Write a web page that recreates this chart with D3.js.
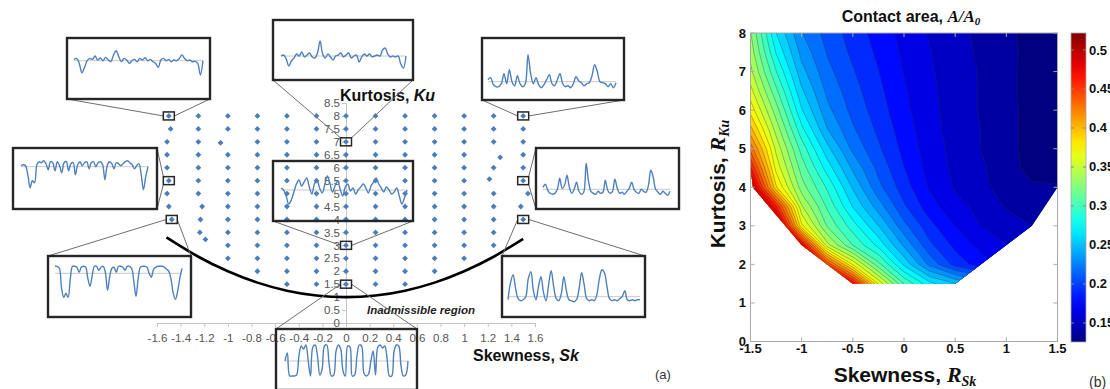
<!DOCTYPE html>
<html><head><meta charset="utf-8">
<script src="https://cdn.jsdelivr.net/npm/d3@7"></script>
<style>
  body { margin: 0; background: #fff; }
  svg { display: block; }
  text { font-family: 'Liberation Sans', Arial, sans-serif; }
</style>
</head><body>
<svg id="fig" width="1110" height="389"></svg>
<script>
// ----------------------------------------------------------------------------
// Design of experiments: skewness / kurtosis targets
// ----------------------------------------------------------------------------
const skLevels = [-1.5, -1.25, -1, -0.75, -0.5, -0.25, 0, 0.25, 0.5, 0.75, 1, 1.25, 1.5];
const kuLevels = [1.5, 2, 2.5, 3, 3.5, 4, 4.5, 5, 5.5, 6, 6.5, 7, 7.5, 8];
const kuMinByColumn = [4, 3, 2.5, 2, 1.5, 1.5, 1.5, 1.5, 1.5, 2, 2.5, 3, 4];

// runs whose generated surface landed slightly off target: [targetSk, targetKu, Sk, Ku]
const offTarget = [
  [-1.5, 7.5, -1.485, 7.5], [-1.5, 7, -1.515, 7], [-1.5, 6.5, -1.515, 6.5],
  [-1.5, 6, -1.515, 6], [-1.5, 5, -1.515, 5], [-1.5, 4, -1.475, 4],
  [-1.25, 4.5, -1.218, 4.5], [-1.25, 4, -1.232, 4], [-1.25, 3.5, -1.237, 3.5],
  [-1.25, 3, -1.19, 3.23], [-1, 7, -1.062, 6.96],
  [1.25, 6.5, 1.305, 6.4], [1.25, 5.5, 1.214, 5.56],
  [1.5, 5, 1.54, 5], [1.5, 4.5, 1.48, 4.5]
];

// lower bound of the admissible region, Ku = Sk^2 + 1
const boundarySk = [-1.52, -1.25, -1, -0.75, -0.5, -0.25, 0, 0.25, 0.5, 0.75, 1, 1.25, 1.5];
const boundaryKu = [3.31, 2.56, 2.0, 1.56, 1.25, 1.06, 1.0, 1.06, 1.25, 1.56, 2.0, 2.56, 3.25];

// axis labels of panel (a)
const xTickLabelsA = ["-1.6","-1.4","-1.2","-1","-0.8","-0.6","-0.4","-0.2","0","0.2","0.4","0.6","0.8","1","1.2","1.4","1.6"];
const yTickLabelsA = ["0","0.5","1","1.5","2","2.5","3","3.5","4","4.5","5","5.5","6","6.5","7","7.5","8","8.5"];

// example height profiles (mean line = 0)
const sigTopLeft   = [1.3,2.3,-2.7,-12,-6.7,0,2.3,1.3,4.7,0.7,2.7,0,3.3,0.7,-1,5.7,10,4,-1,2.3,0.7,-2.7,0,1.3,-1,2.3,0.7,3,0,1.3,-1,-2.7,-6.7,0.7,2.3,0,1.3,-1,0.7,0,2.3,5.7,2.3,0,0.7,-1,-0.7,-2.7,-14.3,0];
const sigTopCentre = [0,1,-3,-10,-5,-2,2,0,4,-1,1,3,-1,-2,3,15,2,-2,2,-1,-4,0,1,3,-1,1,3,-2,0,1,-6,-1,2,0,2,-1,0,1,0,6,8,2,-1,0,-1,0,-8,-12,0];
const sigTopRight  = [2,4,-3,-5,-5,-2,8,-2,12,0,-4,6,-2,-5,-2,27,8,-2,4,-3,-6,-3,2,7,-2,-4,2,8,-2,-5,-4,-6,-2,5,1,-1,-4,-2,-1,6,17,10,0,-1,-2,-5,-2,-6,-1];
const sigMidLeft   = [1,2,1,-8,-21,-14,-16,2,5,4,6,3,-3,5,4,-4,5,1,-6,4,5,-4,3,4,-8,2,5,1,4,5,-2,4,5,0,4,5,2,-13,1,5,3,-2,4,3,1,3,5,6,4,2,-2,1,3,-8,-23,-10,0];
const sigMidRight  = [2,5,-1,-4,-5,-4,0,11,1,4,14,2,-4,0,7,-2,-5,-3,26,8,-2,-4,-5,-2,-4,-3,9,-1,-4,-2,10,1,-4,-3,-5,-2,1,7,0,-3,-4,0,-2,-3,4,19,12,0,-3,-5,-2,-4,-6,-2];
const sigCentre    = [2,0,-6,-14,-10,-2,6,10,4,8,12,3,-4,6,10,2,-3,5,14,7,-2,4,9,1,-6,3,6,-1,2,-4,0,3,6,2,-3,4,8,12,6,2,-2,3,0,-4,-2,2,-6,-14,-8,0];
const sigLowLeft   = [7,7,5,-15,-24,-20,-24,-5,7,7,6,1,6,7,6,-5,-13,-2,7,7,3,6,7,1,-17,-3,5,6,1,7,7,6,3,7,7,5,-8,-23,-5,6,7,7,6,0,-4,4,6,7,7,7,6,4,2,-6,-20,-26,-18,-5,5];
const sigLowRight  = [-3,14,22,8,-2,-4,-3,0,18,25,6,-3,10,20,4,-4,12,26,10,-2,-4,3,20,6,-3,-4,-5,-3,8,24,12,-2,-4,-3,-4,2,18,27,24,10,-2,-4,-3,-4,-2,0,6,-3,-4,-3,-4,-3,-3];
const sigBottom    = [0,8,-15,-15,-15,-14,5,15,12,16,0,-15,14,16,5,-14,-8,15,16,-3,-15,-14,10,16,12,-10,-15,15,14,-15,-14,5,16,15,-12,-15,-13,0,10,-14,14,16,13,15,2,-15,-15,10,16,15,-5,-15,-14,0];

// ----------------------------------------------------------------------------
// Panel (b): contact area A/A0 on the (Sk, Ku) grid, rows from Ku = 8 down to 1.5
// ----------------------------------------------------------------------------
const kuRows = [8, 7.5, 7, 6.5, 6, 5.5, 5, 4.5, 4, 3.5, 3, 2.5, 2, 1.5];
const contactArea = [
  [0.338,0.271,0.232,0.213,0.199,0.186,0.174,0.164,0.156,0.149,0.142,0.134,0.130],
  [0.345,0.283,0.240,0.217,0.202,0.189,0.176,0.166,0.157,0.150,0.143,0.134,0.129],
  [0.354,0.298,0.249,0.222,0.206,0.192,0.178,0.167,0.158,0.151,0.143,0.133,0.128],
  [0.368,0.314,0.260,0.228,0.210,0.195,0.180,0.168,0.159,0.151,0.143,0.133,0.128],
  [0.385,0.330,0.272,0.235,0.214,0.198,0.182,0.169,0.159,0.151,0.144,0.133,0.127],
  [0.408,0.345,0.288,0.245,0.220,0.202,0.185,0.170,0.160,0.152,0.144,0.133,0.127],
  [0.438,0.360,0.305,0.262,0.228,0.207,0.188,0.172,0.161,0.152,0.144,0.133,0.126],
  [0.472,0.372,0.318,0.278,0.242,0.214,0.192,0.174,0.162,0.154,0.145,0.134,0.127],
  [0.512,0.392,0.330,0.295,0.256,0.222,0.198,0.177,0.164,0.155,0.147,0.141,0.141],
  [0.560,0.470,0.352,0.308,0.270,0.238,0.207,0.184,0.170,0.161,0.151,0.146,0.143],
  [0.600,0.530,0.380,0.322,0.290,0.258,0.222,0.196,0.178,0.165,0.157,0.152,0.148],
  [0.650,0.580,0.488,0.355,0.310,0.280,0.242,0.208,0.188,0.174,0.166,0.160,0.155],
  [0.700,0.640,0.560,0.455,0.375,0.315,0.268,0.228,0.200,0.185,0.175,0.168,0.160],
  [0.750,0.700,0.630,0.560,0.480,0.375,0.310,0.275,0.258,0.240,0.220,0.200,0.190]
];
const areaRange = [0.1256, 0.5218];
const levelCount = 30;
const xTicksB = [-1.5, -1, -0.5, 0, 0.5, 1, 1.5];
const xTickLabelsB = ["-1.5", "-1", "-0.5", "0", "0.5", "1", "1.5"];
const yTicksB = [0, 1, 2, 3, 4, 5, 6, 7, 8];
const cbTicks = [0.15, 0.2, 0.25, 0.3, 0.35, 0.4, 0.45, 0.5];

// ----------------------------------------------------------------------------
const svg = d3.select("#fig");
const SANS = "'Liberation Sans', Arial, sans-serif";
const SERIF = "'Liberation Serif', 'Times New Roman', serif";

// achieved design points
const points = [];
skLevels.forEach((sk, ci) => {
  kuLevels.filter(ku => ku >= kuMinByColumn[ci]).forEach(ku => {
    const o = offTarget.find(d => d[0] === sk && d[1] === ku);
    points.push({ tSk: sk, tKu: ku, sk: o ? o[2] : sk, ku: o ? o[3] : ku });
  });
});
const pointAt = (sk, ku) => points.find(p => p.tSk === sk && p.tKu === ku);

// ============================ panel (a) =====================================
const xA = d3.scaleLinear([-1.6, 1.6], [157, 535]);
const yA = d3.scaleLinear([0, 8.5], [323, 103]);
const gA = svg.append("g");

const xAxisA = d3.axisBottom(xA)
  .tickValues(d3.range(xTickLabelsA.length).map(i => -1.6 + i * 0.2))
  .tickFormat((d, i) => xTickLabelsA[i]).tickSize(4).tickPadding(7);
const yAxisA = d3.axisLeft(yA)
  .tickValues(d3.range(yTickLabelsA.length).map(i => i * 0.5))
  .tickFormat((d, i) => yTickLabelsA[i]).tickSize(4).tickPadding(2);

function styleAxis(g) {
  g.select(".domain").attr("stroke", "#c4c4c4");
  g.selectAll(".tick line").attr("stroke", "#c4c4c4");
  g.selectAll(".tick text").attr("fill", "#555").style("font-size", "11.5px").style("font-family", SANS);
}
gA.append("g").attr("transform", `translate(0,${yA(0)})`).call(xAxisA).call(styleAxis);
gA.append("g").attr("transform", `translate(${xA(0)},0)`).call(yAxisA).call(styleAxis);

// inadmissible boundary
const boundary = boundarySk.map((s, i) => [s, boundaryKu[i]]);
gA.append("path")
  .attr("d", d3.line().x(d => xA(d[0])).y(d => yA(d[1])).curve(d3.curveNatural)(boundary))
  .attr("fill", "none").attr("stroke", "#000").attr("stroke-width", 2.6);

// design points
gA.append("g").selectAll("path").data(points).join("path")
  .attr("d", d3.symbol(d3.symbolSquare, 17))
  .attr("transform", d => `translate(${xA(d.sk)},${yA(d.ku)}) rotate(45)`)
  .attr("fill", "#4a7ebb");

gA.append("text").attr("x", 367).attr("y", 314)
  .style("font-size", "11.5px").style("font-weight", "bold").style("font-style", "italic")
  .attr("fill", "#222").text("Inadmissible region");

const kuTitle = gA.append("text").attr("x", 340).attr("y", 101)
  .style("font-size", "16px").style("font-weight", "bold").attr("fill", "#111");
kuTitle.append("tspan").text("Kurtosis, ");
kuTitle.append("tspan").style("font-style", "italic").text("Ku");

const skTitle = gA.append("text").attr("x", 473).attr("y", 361)
  .style("font-size", "16px").style("font-weight", "bold").attr("fill", "#111");
skTitle.append("tspan").text("Skewness, ");
skTitle.append("tspan").style("font-style", "italic").text("Sk");

gA.append("text").attr("x", 655).attr("y", 379).style("font-size", "13px").attr("fill", "#333").text("(a)");

// insets with example profiles
const insetLayout = [
  { sig: sigTopLeft,   sk: -1.5, ku: 8,   box: [67, 38, 143, 61],  mean: 22.7, pad: [7, 7], links: [["bl", "l"], ["br", "r"]] },
  { sig: sigTopCentre, sk: 0,    ku: 7,   box: [273, 20, 140, 60], mean: 36,   pad: [8, 7], links: [["bl", "tl"], ["br", "tr"]] },
  { sig: sigTopRight,  sk: 1.5,  ku: 8,   box: [482, 38, 142, 62], mean: 43.7, pad: [6, 8], links: [["bl", "l"], ["br", "r"]] },
  { sig: sigMidLeft,   sk: -1.5, ku: 5.5, box: [13, 148, 144, 61], mean: 18.7, pad: [8, 9], links: [["tr", "tl"], ["br", "bl"]] },
  { sig: sigMidRight,  sk: 1.5,  ku: 5.5, box: [536, 148, 143, 61], mean: 41.3, pad: [7, 9], links: [["tl", "tr"], ["bl", "br"]] },
  { sig: sigCentre,    sk: 0,    ku: 3,   box: [273, 161, 140, 60], mean: 29,   pad: [8, 6], links: [["bl", "l"], ["br", "r"]] },
  { sig: sigLowLeft,   sk: -1.5, ku: 4,   box: [48, 256, 143, 61], mean: 17.3, pad: [7, 9], links: [["tl", "l"], ["tr", "r"]] },
  { sig: sigLowRight,  sk: 1.5,  ku: 4,   box: [502, 256, 143, 61], mean: 40.7, pad: [6, 5], links: [["tl", "l"], ["tr", "r"]] },
  { sig: sigBottom,    sk: 0,    ku: 1.5, box: [276, 329, 141, 61], mean: 32,   pad: [9, 9], links: [["tl", "l"], ["tr", "r"]] }
];
const MW = 11, MH = 8;
const gIn = svg.append("g");
insetLayout.forEach(L => {
  const [bx, by, bw, bh] = L.box;
  const p = pointAt(L.sk, L.ku);
  const mx = xA(p.sk), my = yA(p.ku);
  const boxCorner = { tl: [bx, by], tr: [bx + bw, by], bl: [bx, by + bh], br: [bx + bw, by + bh] };
  const mark = {
    l: [mx - MW / 2, my], r: [mx + MW / 2, my],
    tl: [mx - MW / 2, my - MH / 2], tr: [mx + MW / 2, my - MH / 2],
    bl: [mx - MW / 2, my + MH / 2], br: [mx + MW / 2, my + MH / 2]
  };
  L.links.forEach(([a, b]) => {
    gIn.append("line")
      .attr("x1", boxCorner[a][0]).attr("y1", boxCorner[a][1])
      .attr("x2", mark[b][0]).attr("y2", mark[b][1])
      .attr("stroke", "#6e6e6e").attr("stroke-width", 1);
  });
  gIn.append("rect").attr("x", mx - MW / 2).attr("y", my - MH / 2).attr("width", MW).attr("height", MH)
    .attr("fill", "none").attr("stroke", "#262626").attr("stroke-width", 1.5);

  const x = d3.scaleLinear([0, L.sig.length - 1], [bx + L.pad[0], bx + bw - L.pad[1]]);
  const meanY = by + L.mean;
  const y = d3.scaleLinear([-1, 1], [meanY + 1, meanY - 1]);
  gIn.append("line").attr("x1", x(0)).attr("x2", x(L.sig.length - 1)).attr("y1", meanY).attr("y2", meanY)
    .attr("stroke", "#c8c8c8").attr("stroke-width", 1);
  gIn.append("path")
    .attr("d", d3.line().x((d, i) => x(i)).y(d => y(d)).curve(d3.curveCatmullRom.alpha(0.5))(L.sig))
    .attr("fill", "none").attr("stroke", "#4f81bd").attr("stroke-width", 1.4);
  gIn.append("rect").attr("x", bx).attr("y", by).attr("width", bw).attr("height", bh)
    .attr("fill", "none").attr("stroke", "#262626").attr("stroke-width", 2.4);
});

// ============================ panel (b) =====================================
const xB = d3.scaleLinear([-1.5, 1.5], [750.5, 1057.5]);
const yB = d3.scaleLinear([0, 8], [341.5, 33]);
const plotL = xB(-1.5), plotR = xB(1.5), plotT = yB(8), plotB = yB(0);

function jet(t) {
  t = Math.max(0, Math.min(1, t));
  const c = v => Math.round(255 * Math.max(0, Math.min(1, v)));
  return d3.rgb(c(1.5 - Math.abs(4 * t - 3)), c(1.5 - Math.abs(4 * t - 2)), c(1.5 - Math.abs(4 * t - 1)));
}
const colorT = d3.scaleLinear(areaRange, [0, 1]);

const nx = skLevels.length, ny = kuRows.length;
const gridSk = d3.scaleLinear([0.5, nx - 0.5], [skLevels[0], skLevels[nx - 1]]);
const gridKu = d3.scaleLinear([0.5, ny - 0.5], [kuRows[0], kuRows[ny - 1]]);
const proj = d3.geoTransform({
  point(px, py) { this.stream.point(xB(gridSk(px)), yB(gridKu(py))); }
});
const path = d3.geoPath(proj);

const step = (areaRange[1] - areaRange[0]) / levelCount;
const thresholds = d3.range(levelCount).map(k => areaRange[0] + k * step);
const contours = d3.contours().size([nx, ny]).thresholds(thresholds)(contactArea.flat());

const defs = svg.append("defs");
defs.append("clipPath").attr("id", "plotClip").append("rect")
  .attr("x", plotL).attr("y", plotT).attr("width", plotR - plotL).attr("height", plotB - plotT);
const hull = d3.polygonHull(points.map(p => [xB(p.sk), yB(p.ku)]));
defs.append("clipPath").attr("id", "hullClip").append("path").attr("d", "M" + hull.join("L") + "Z");

const gB = svg.append("g");
const gFill = gB.append("g").attr("clip-path", "url(#plotClip)").append("g").attr("clip-path", "url(#hullClip)");
gFill.selectAll("path.band").data(contours).join("path").attr("class", "band")
  .attr("d", path).attr("fill", d => jet(colorT(d.value))).attr("stroke", "none");
gFill.selectAll("path.iso").data(contours.slice(1)).join("path").attr("class", "iso")
  .attr("d", path).attr("fill", "none").attr("stroke", "#2a2a2a").attr("stroke-opacity", 0.55).attr("stroke-width", 0.6);

// frame and inward ticks
gB.append("rect").attr("x", plotL).attr("y", plotT).attr("width", plotR - plotL).attr("height", plotB - plotT)
  .attr("fill", "none").attr("stroke", "#a9a9a9").attr("stroke-width", 1);
const tk = gB.append("g").attr("stroke", "#a9a9a9").attr("stroke-width", 1);
xTicksB.forEach(v => {
  tk.append("line").attr("x1", xB(v)).attr("x2", xB(v)).attr("y1", plotB).attr("y2", plotB - 4);
  tk.append("line").attr("x1", xB(v)).attr("x2", xB(v)).attr("y1", plotT).attr("y2", plotT + 4);
});
yTicksB.forEach(v => {
  tk.append("line").attr("x1", plotL).attr("x2", plotL + 4).attr("y1", yB(v)).attr("y2", yB(v));
  tk.append("line").attr("x1", plotR).attr("x2", plotR - 4).attr("y1", yB(v)).attr("y2", yB(v));
});
gB.append("g").selectAll("text").data(xTicksB).join("text")
  .attr("x", d => xB(d)).attr("y", 353).attr("text-anchor", "middle")
  .style("font-size", "13px").style("font-weight", "bold").attr("fill", "#111")
  .text((d, i) => xTickLabelsB[i]);
gB.append("g").selectAll("text").data(yTicksB).join("text")
  .attr("x", 746).attr("y", d => yB(d) + 4.5).attr("text-anchor", "end")
  .style("font-size", "13px").style("font-weight", "bold").attr("fill", "#111")
  .text(d => d);

// titles
const tB = gB.append("text").attr("x", 911).attr("y", 22).attr("text-anchor", "middle")
  .style("font-size", "16px").style("font-weight", "bold").attr("fill", "#111");
tB.append("tspan").text("Contact area, ");
tB.append("tspan").style("font-family", SERIF).style("font-style", "italic").style("font-size", "17px").text("A/A");
tB.append("tspan").style("font-family", SERIF).style("font-style", "italic").style("font-size", "11px").attr("dy", 3).text("0");

const xlB = gB.append("text").attr("x", 905).attr("y", 382).attr("text-anchor", "middle")
  .style("font-size", "21px").style("font-weight", "bold").attr("fill", "#111");
xlB.append("tspan").text("Skewness, ");
xlB.append("tspan").style("font-family", SERIF).style("font-style", "italic").style("font-size", "22px").text("R");
xlB.append("tspan").style("font-family", SERIF).style("font-style", "italic").style("font-size", "14px").attr("dy", 4).text("Sk");

const ylB = gB.append("text").attr("transform", "translate(725,184) rotate(-90)").attr("text-anchor", "middle")
  .style("font-size", "21px").style("font-weight", "bold").attr("fill", "#111");
ylB.append("tspan").text("Kurtosis, ");
ylB.append("tspan").style("font-family", SERIF).style("font-style", "italic").style("font-size", "22px").text("R");
ylB.append("tspan").style("font-family", SERIF).style("font-style", "italic").style("font-size", "14px").attr("dy", 4).text("Ku");

gB.append("text").attr("x", 1089).attr("y", 387).style("font-size", "14px").attr("fill", "#333").text("(b)");

// colour bar
const cbX = 1071, cbW = 15;
const yC = d3.scaleLinear(areaRange, [342, 33]);
const grad = defs.append("linearGradient").attr("id", "jetGrad").attr("x1", 0).attr("x2", 0).attr("y1", 1).attr("y2", 0);
d3.range(0, 1.0001, 0.05).forEach(t => grad.append("stop").attr("offset", t).attr("stop-color", jet(t)));
gB.append("rect").attr("x", cbX).attr("y", yC.range()[1]).attr("width", cbW).attr("height", yC.range()[0] - yC.range()[1])
  .attr("fill", "url(#jetGrad)").attr("stroke", "#a9a9a9").attr("stroke-width", 0.8);
cbTicks.forEach(v => {
  gB.append("line").attr("x1", cbX).attr("x2", cbX + 3).attr("y1", yC(v)).attr("y2", yC(v)).attr("stroke", "#888");
  gB.append("line").attr("x1", cbX + cbW).attr("x2", cbX + cbW - 3).attr("y1", yC(v)).attr("y2", yC(v)).attr("stroke", "#888");
});
gB.append("g").selectAll("text").data(cbTicks).join("text")
  .attr("x", 1089).attr("y", d => yC(d) + 4.5)
  .style("font-size", "13px").style("font-weight", "bold").attr("fill", "#111")
  .text(d => d);
</script>
</body></html>
